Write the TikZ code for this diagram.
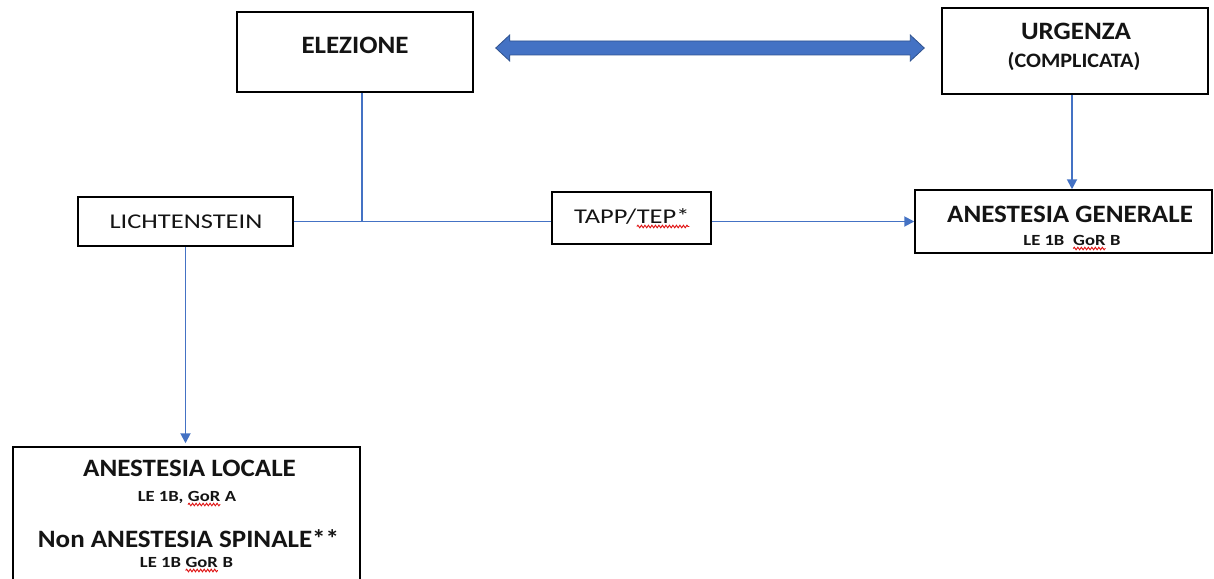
\documentclass[tikz,border=0pt]{standalone}
\usepackage{fontspec}
\setmainfont{Carlito}
\newfontfamily\hdfam{Carlito}[FakeStretch=1.08]
\newfontfamily\rgfam{Carlito}[FakeStretch=1.26]
\newfontfamily\smfam{Carlito}[FakeStretch=1.2]
\usetikzlibrary{arrows.meta,calc,decorations.pathmorphing}
\definecolor{lineblue}{HTML}{4472C4}
\definecolor{edgeblue}{HTML}{2F528F}
\definecolor{txt}{HTML}{141414}
\definecolor{spellred}{HTML}{E01010}
\newcommand\hdtext{\hdfam\bfseries\fontsize{25}{30}\selectfont}
\newcommand\cptext{\hdfam\bfseries\fontsize{20.5}{24}\selectfont}
\newcommand\rgtext{\rgfam\fontsize{21}{25}\selectfont}
\newcommand\smtext{\smfam\bfseries\fontsize{15.5}{18}\selectfont}
\newcommand\sq[1]{\tikz[baseline=(sqw.base)]{\node[inner sep=0pt,outer sep=0pt,anchor=base](sqw){#1};\draw[spellred,line width=0.9pt,decorate,decoration={snake,amplitude=1.3pt,segment length=3.5pt}]([yshift=-3.5pt]sqw.base west)--([yshift=-3.5pt]sqw.base east);}}
\tikzset{
  box/.style={draw=black,line width=1.5pt,inner sep=0pt},
  lbl/.style={inner sep=0pt,anchor=base,text=txt},
  conn/.style={draw=lineblue,line width=1.9pt},
  arr/.style={conn,-{Triangle[length=10pt,width=10pt]}}
}
\begin{document}
\begin{tikzpicture}[x=1pt,y=-1pt]
\useasboundingbox (0,0) rectangle (1214,578);
\clip (0,0) rectangle (1214,578);
\fill[white] (0,0) rectangle (1214,578);
% boxes
\node[box,minimum width=236pt,minimum height=80pt] (elez) at (355,52) {};
\node[box,minimum width=266pt,minimum height=86pt] (urg) at (1075,51) {};
\node[box,minimum width=215pt,minimum height=49pt] (lich) at (185.5,221.5) {};
\node[box,minimum width=159pt,minimum height=52pt] (tapp) at (631.5,218) {};
\node[box,minimum width=297pt,minimum height=63pt] (gen) at (1063.5,221.5) {};
\node[box,minimum width=347pt,minimum height=160pt] (loc) at (186.5,527) {};
% texts
\node[lbl] (telez) at (355,54) {\hdtext ELEZIONE};
\node[lbl] (turg) at (1076,40) {\hdtext URGENZA};
\node[lbl] (tcomp) at (1074,67) {\cptext (COMPLICATA)};
\node[lbl] (tlich) at (186,228) {\rgtext LICHTENSTEIN};
\node[lbl] (ttapp) at (632,223) {\rgtext TAPP/\sq{TEP*}};
\node[lbl] (tgen) at (1070,222) {\hdtext ANESTESIA GENERALE};
\node[lbl] (tgenle) at (1072,245) {\smtext LE 1B\ \ \sq{GoR} B};
\node[lbl] (tloc) at (189.5,476) {\hdtext ANESTESIA LOCALE};
\node[lbl] (tlocle) at (187,501) {\smtext LE 1B, \sq{GoR} A};
\node[lbl] (tspin) at (188.5,547) {\hdtext Non ANESTESIA SPINALE**};
\node[lbl] (tspinle) at (186.5,567) {\smtext LE 1B \sq{GoR} B};
% connectors
\coordinate (ej) at ([xshift=7pt]elez.south);
\draw[conn] (ej) -- (ej |- lich.east);
\draw[conn] (lich.east) -- (lich.east -| tapp.west);
\draw[arr] (tapp.east |- gen.west) -- (gen.west);
\draw[arr] ([xshift=-3pt]urg.south) -- ([xshift=-3pt]urg.south |- gen.north);
\draw[arr,shorten >=3pt] (lich.south) -- (lich.south |- loc.north);
% double arrow
\coordinate (dl) at ($(elez.east)+(22,-4)$);
\coordinate (dr) at ($(urg.west)+(-17,-3)$);
\fill[lineblue,draw=edgeblue,line width=0.8pt]
  (dl) -- ($(dl)+(14,-13)$) -- ($(dl)+(14,-7)$) -- ($(dr)+(-14,-7)$) -- ($(dr)+(-14,-13)$)
  -- (dr) -- ($(dr)+(-14,13)$) -- ($(dr)+(-14,7)$) -- ($(dl)+(14,7)$) -- ($(dl)+(14,13)$) -- cycle;
\end{tikzpicture}
\end{document}
